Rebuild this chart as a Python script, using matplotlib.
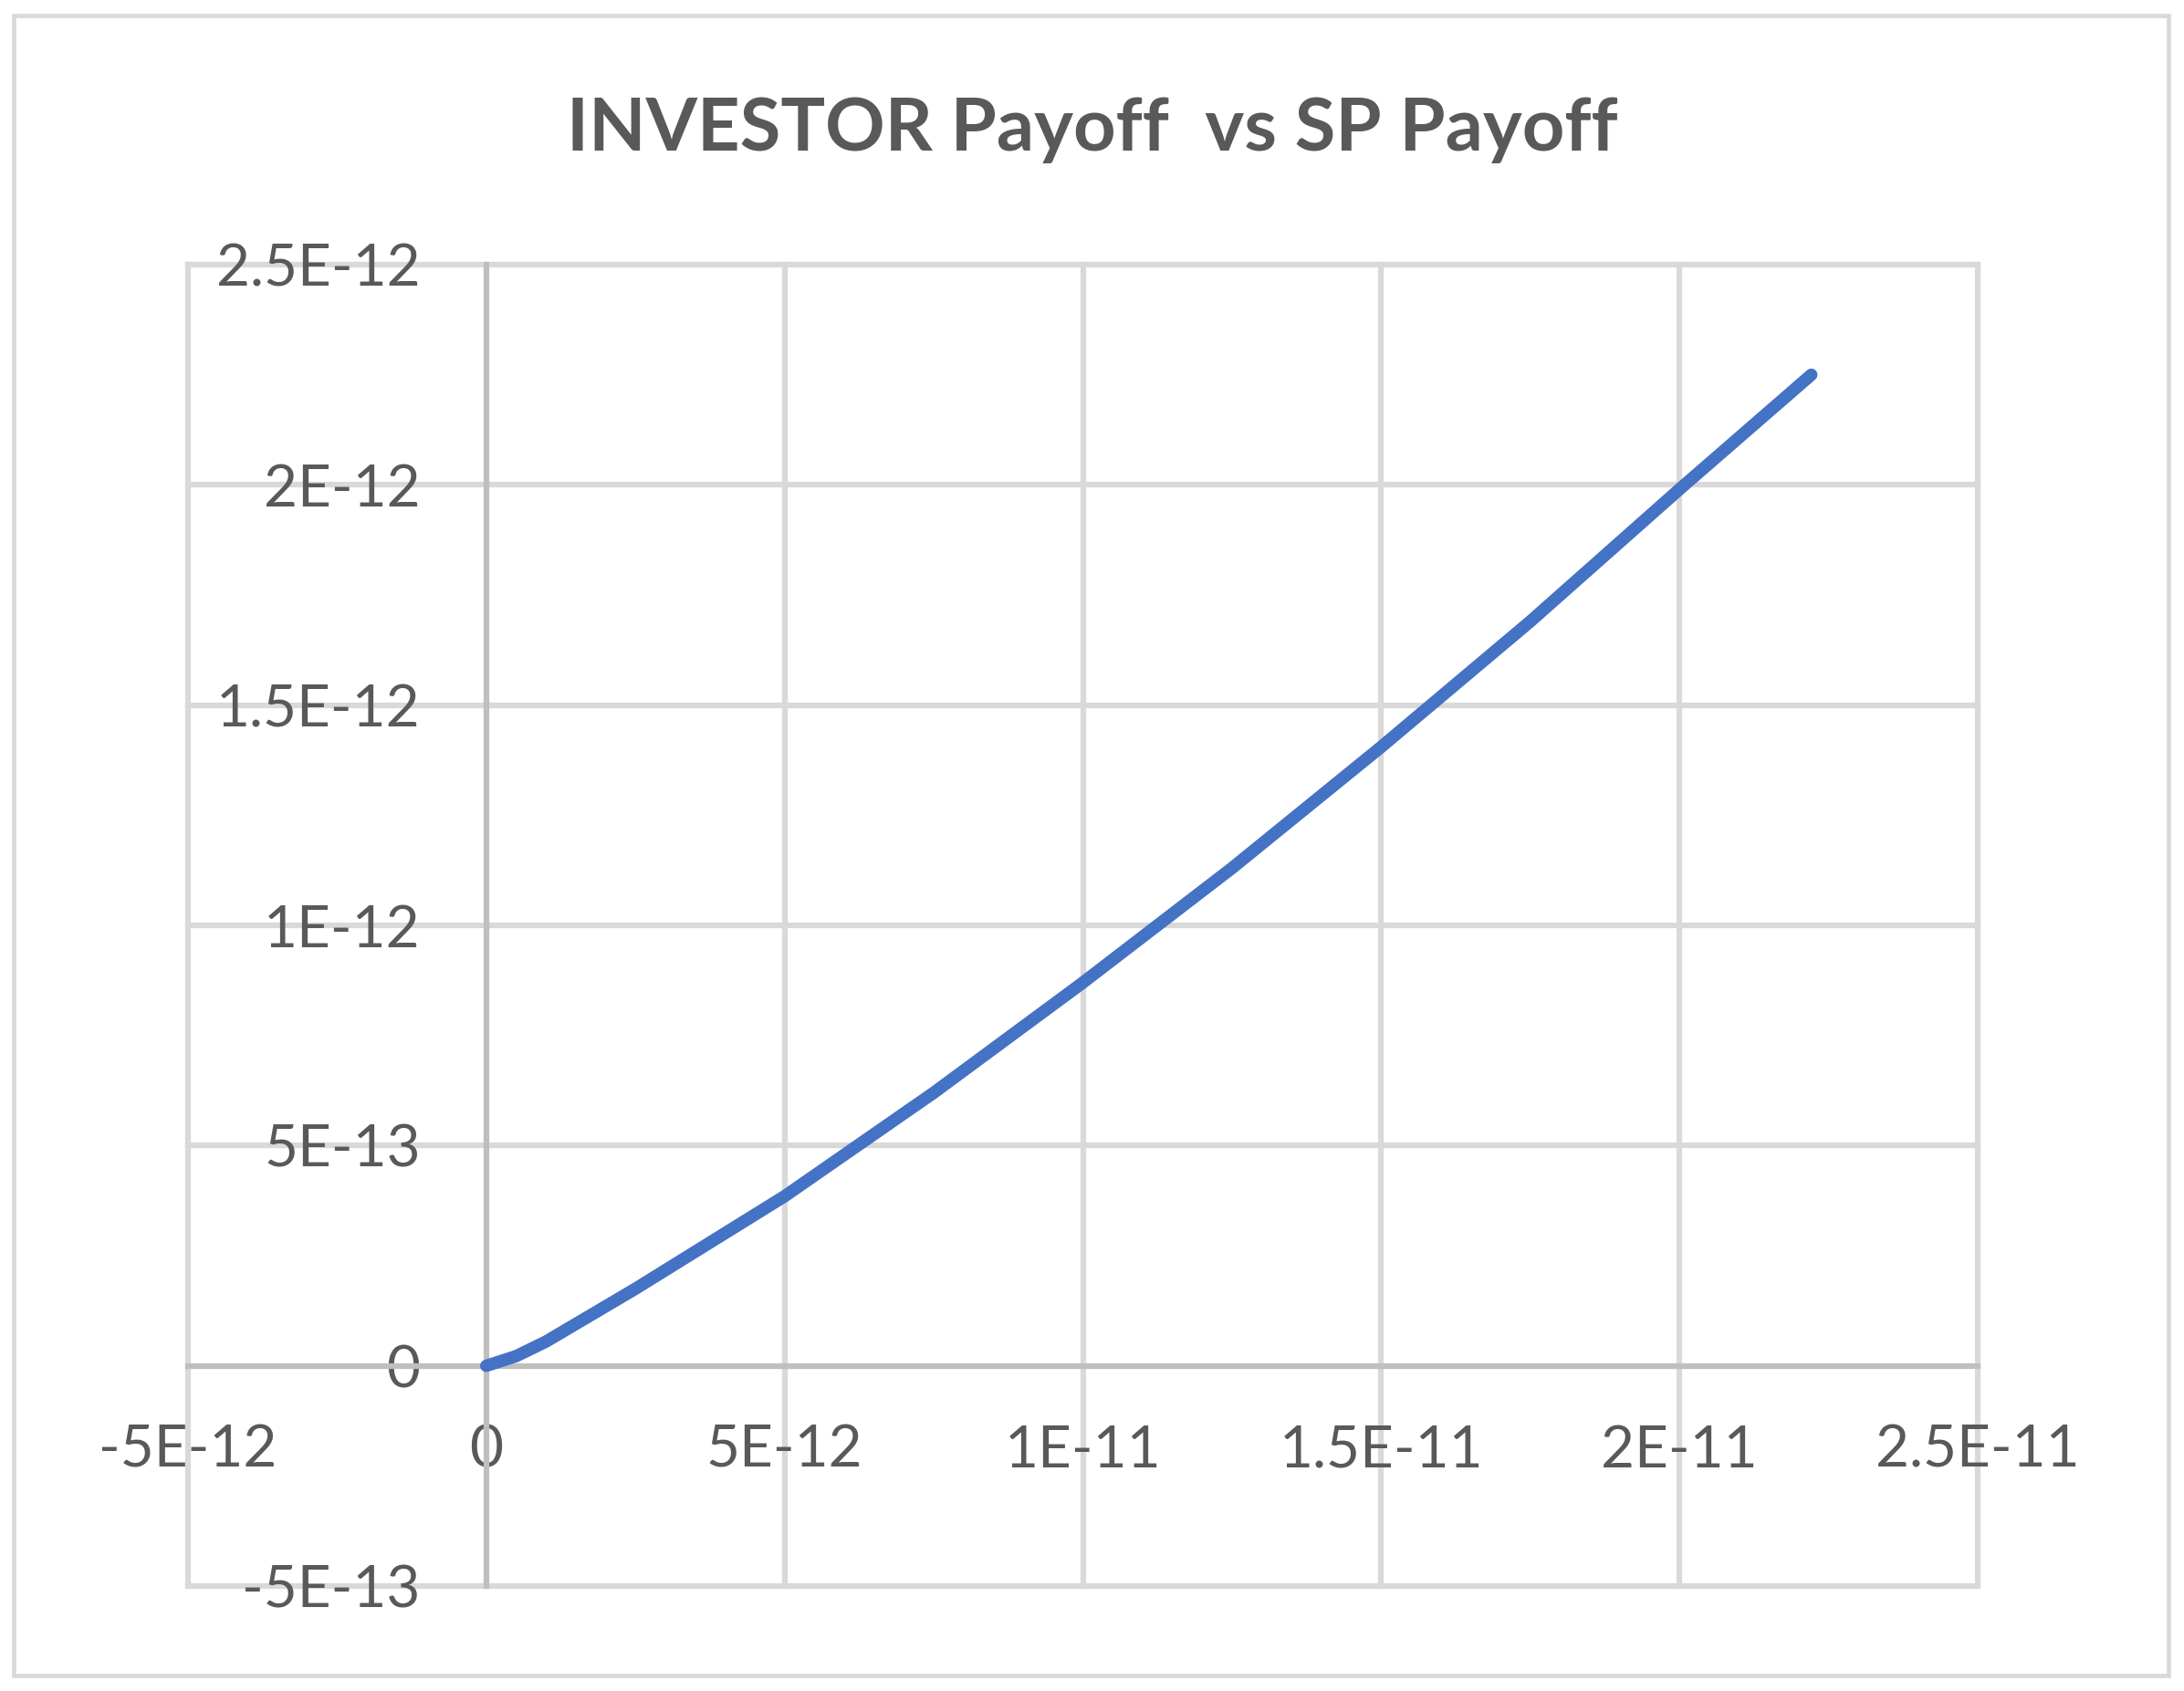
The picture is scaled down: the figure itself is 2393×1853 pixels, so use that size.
import matplotlib
matplotlib.use("Agg")
import matplotlib.pyplot as plt
from matplotlib.patches import Rectangle

# ---- data ----
sp_payoff = [0.0, 0.5e-12, 1.0e-12, 2.5e-12, 5.0e-12, 7.5e-12, 1.0e-11, 1.25e-11,
             1.5e-11, 1.75e-11, 2.0e-11, 2.221e-11]
investor_payoff = [0.0, 0.022e-12, 0.055e-12, 0.175e-12, 0.385e-12, 0.62e-12, 0.87e-12,
                   1.13e-12, 1.405e-12, 1.69e-12, 1.99e-12, 2.25e-12]

x_ticks = [-5e-12, 0, 5e-12, 1e-11, 1.5e-11, 2e-11, 2.5e-11]
x_labels = ["-5E-12", "0", "5E-12", "1E-11", "1.5E-11", "2E-11", "2.5E-11"]
y_ticks = [-5e-13, 0, 5e-13, 1e-12, 1.5e-12, 2e-12, 2.5e-12]
y_labels = ["-5E-13", "0", "5E-13", "1E-12", "1.5E-12", "2E-12", "2.5E-12"]
title = "INVESTOR Payoff  vs SP Payoff"

TXT = "#595959"
GRID = "#D9D9D9"
AXIS = "#BFBFBF"
LINE = "#4472C4"

plt.rcParams['font.family'] = ['Lato', 'DejaVu Sans']

fig = plt.figure(figsize=(23.93, 18.53), dpi=100)
fig.patches.append(Rectangle((15 / 2393, 17 / 1853), (2376 - 15) / 2393, (1836 - 17) / 1853,
                             transform=fig.transFigure, fill=False, edgecolor=GRID,
                             linewidth=3.4, zorder=0))

ax = fig.add_axes([206 / 2393, 1 - 1738 / 1853, (2167 - 206) / 2393, (1738 - 290) / 1853])
ax.set_xlim(x_ticks[0], x_ticks[-1])
ax.set_ylim(y_ticks[0], y_ticks[-1])

for xv in x_ticks:
    ax.axvline(xv, color=AXIS if xv == 0 else GRID, lw=4.5, zorder=1 if xv else 2, clip_on=False)
for yv in y_ticks:
    ax.axhline(yv, color=AXIS if yv == 0 else GRID, lw=4.5, zorder=1 if yv else 2, clip_on=False)

ax.plot(sp_payoff, investor_payoff, color=LINE, lw=9.8, solid_capstyle='round',
        solid_joinstyle='round', zorder=3)

for s in ax.spines.values():
    s.set_visible(False)
ax.spines['left'].set_position(('data', 0))
ax.spines['bottom'].set_position(('data', 0))
ax.set_xticks(x_ticks)
ax.set_xticklabels(x_labels)
ax.set_yticks(y_ticks)
ax.set_yticklabels(y_labels)
ax.tick_params(axis='both', length=0, labelsize=46, labelcolor=TXT)
ax.tick_params(axis='y', pad=52)
ax.tick_params(axis='x', pad=46)

fig.text(0.5, 1 - 142 / 1853, title, ha='center', va='center', fontsize=58.5,
         fontweight='bold', color=TXT)

fig.savefig("out.png", dpi=100, facecolor='white')
